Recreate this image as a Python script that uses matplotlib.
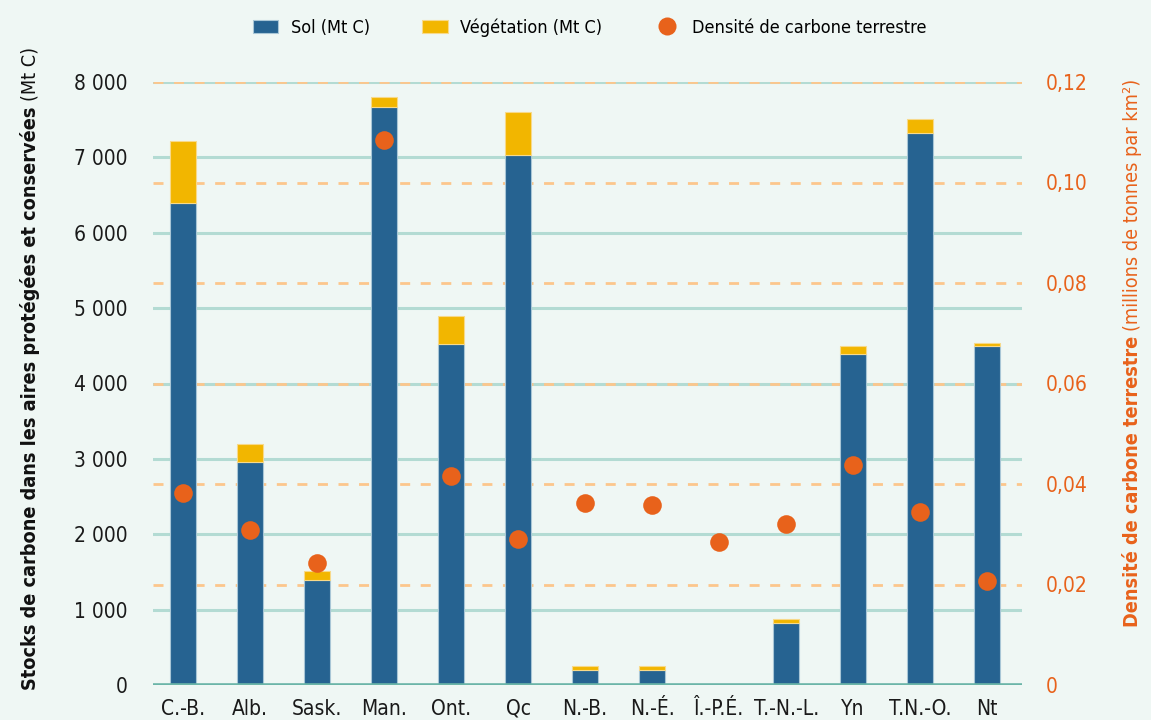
import matplotlib.pyplot as plt
import numpy as np
from matplotlib.lines import Line2D
from matplotlib.patches import Patch

provinces = ["C.-B.", "Alb.", "Sask.", "Man.", "Ont.", "Qc", "N.-B.", "N.-É.",
             "Î.-P.É.", "T.-N.-L.", "Yn", "T.N.-O.", "Nt"]
soil = [6395, 2955, 1390, 7670, 4520, 7030, 195, 195, 0, 822, 4398, 7320, 4498]
vegetation = [822, 240, 127, 133, 380, 572, 57, 57, 0, 58, 100, 189, 35]
density = [0.0382, 0.0308, 0.0242, 0.1085, 0.0416, 0.0290, 0.0363, 0.0358,
           0.0285, 0.0321, 0.0438, 0.0345, 0.0207]

left_ticks = [0, 1000, 2000, 3000, 4000, 5000, 6000, 7000, 8000]
right_ticks = [0, 0.02, 0.04, 0.06, 0.08, 0.10, 0.12]

BG = "#eff7f4"
SOIL = "#266391"
VEG = "#f2b600"
DOT = "#e8621b"
GRID = "#b3dbd3"
DASH = "#fcc68c"
BASE = "#6bb5a8"
EDGE = "#a8c6d6"

plt.rcParams["font.family"] = ["DejaVu Sans"]
plt.rcParams["font.stretch"] = "condensed"

W, H = 1151, 720
fig = plt.figure(figsize=(W / 100, H / 100), dpi=100, facecolor=BG)
ax = fig.add_axes([153 / W, 1 - 685 / H, (1022 - 153) / W, (685 - 82) / H])
ax.set_facecolor(BG)

x = np.arange(len(provinces))
ymax = 8000
rmax = 0.12

# grid: solid for left axis, dashed for right axis (mapped onto left scale)
for t in left_ticks[1:]:
    ax.axhline(t, color=GRID, lw=2.2, zorder=0)
for t in right_ticks[1:]:
    ax.axhline(t / rmax * ymax, color=DASH, lw=2.0, dashes=(3.6, 3.8), zorder=0.5)

ax.bar(x, soil, width=0.39, color=SOIL, edgecolor=EDGE, linewidth=0.8, zorder=2)
ax.bar(x, vegetation, width=0.39, bottom=soil, color=VEG, edgecolor="#f7d98a",
       linewidth=0.8, zorder=2)
ax.axhline(0, color=BASE, lw=2.6, zorder=3)

ax.set_xlim(-0.45, 12.52)
ax.set_ylim(0, ymax)
ax.set_yticks(left_ticks)
ax.set_yticklabels([f"{t:,}".replace(",", " ") for t in left_ticks])
ax.set_xticks(x)
ax.set_xticklabels(provinces)
ax.tick_params(axis="y", length=0, pad=18, labelsize=15, labelcolor="#1a1a1a")
ax.tick_params(axis="x", length=0, pad=10, labelsize=15, labelcolor="#1a1a1a")
for s in ax.spines.values():
    s.set_visible(False)

ax2 = ax.twinx()
ax2.scatter(x, density, s=180, color=DOT, zorder=5, linewidths=0)
ax2.set_ylim(0, rmax)
ax2.set_yticks(right_ticks)
ax2.set_yticklabels(["0" if t == 0 else f"{t:.2f}".replace(".", ",") for t in right_ticks])
ax2.tick_params(axis="y", length=0, pad=17, labelsize=15, labelcolor=DOT)
for s in ax2.spines.values():
    s.set_visible(False)

# axis titles: bold part + regular part
fig.text(30 / W, 1 - 106 / H, "Stocks de carbone dans les aires protégées et conservées",
         rotation=90, rotation_mode="anchor", ha="right", va="center",
         fontsize=14.2, fontweight="bold", color="#111111")
fig.text(30 / W, 1 - 101 / H, "(Mt C)", rotation=90, rotation_mode="anchor",
         ha="left", va="center", fontsize=14.2, color="#111111")
fig.text(1133 / W, 1 - 336 / H, "Densité de carbone terrestre",
         rotation=90, rotation_mode="anchor", ha="right", va="center",
         fontsize=14.2, fontweight="bold", color=DOT)
fig.text(1133 / W, 1 - 331 / H, "(millions de tonnes par km²)", rotation=90,
         rotation_mode="anchor", ha="left", va="center", fontsize=14.2, color=DOT)

handles = [
    Patch(facecolor=SOIL, edgecolor=EDGE, linewidth=0.8, label="Sol (Mt C)"),
    Patch(facecolor=VEG, edgecolor="#f7d98a", linewidth=0.8, label="Végétation (Mt C)"),
    Line2D([], [], marker="o", linestyle="none", markersize=13, color=DOT,
           markeredgewidth=0, label="Densité de carbone terrestre"),
]
fig.legend(handles=handles, loc="upper center", bbox_to_anchor=(590 / W, 1 - 2 / H),
           ncol=3, frameon=False, fontsize=13, handlelength=1.4, handleheight=0.8,
           handletextpad=0.7, columnspacing=2.9)

fig.savefig("out.png", dpi=100, facecolor=BG)
